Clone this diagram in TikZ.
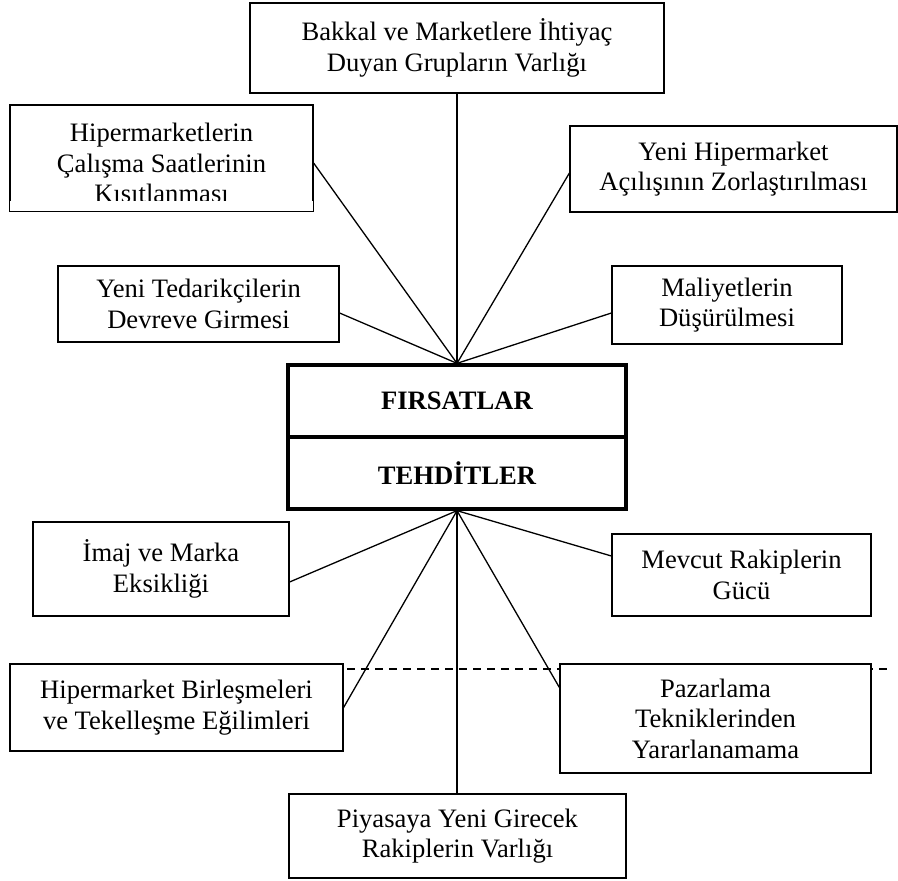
\documentclass[tikz,border=0pt]{standalone}
\usepackage{fontspec}
\setmainfont{Liberation Serif}
\tikzset{
	node_box/.style = {
		align=center,
		inner sep=0pt,
		draw=black,
		fill=white,
		line width=1.2pt,
		font=\fontsize{26.6}{30.5}\selectfont
	},
	node_main/.style = {
		node_box,
		font=\fontsize{26.6}{30.5}\selectfont\bfseries,
		line width=3.3pt,
		minimum width=338pt,
		minimum height=72pt
	},
	edge_line/.style = {
		line width=1.3pt
	},
	edge_dash/.style = {
		line width=1.2pt,
		dash pattern=on 8pt off 6pt
	},
}

\begin{document}
\begin{tikzpicture}[x=1pt, y=-1pt]
\useasboundingbox (0,0) rectangle (898,881);
% dashed line, behind the boxes
\coordinate (dash_l) at (347,669);
\coordinate (dash_r) at (887,669);
\draw [edge_dash] (dash_l) -- (dash_r);
% opportunities
\node [node_box, minimum width=414pt, minimum height=90pt] (bakkal) at (457,48) {Bakkal ve Marketlere İhtiyaç\\Duyan Grupların Varlığı};
% last line cut off by the box
\begin{scope}
\clip (0,100) rectangle (320,200);
\node [node_box, minimum width=303pt, minimum height=106pt] (calisma) at (161.5,158) {\rule{0pt}{28.4pt}Hipermarketlerin\\Çalışma Saatlerinin\\Kısıtlanması};
\end{scope}
\draw [line width=1.2pt] (calisma.north west) rectangle (calisma.south east);
\node [node_box, minimum width=281pt, minimum height=76pt] (tedarik) at (198.5,304) {Yeni Tedarikçilerin\\Devreve Girmesi};
\node [node_box, minimum width=327pt, minimum height=86pt] (acilis) at (733.5,169) {Yeni Hipermarket\\Açılışının Zorlaştırılması};
\node [node_box, minimum width=230pt, minimum height=78pt] (maliyet) at (727,305) {Maliyetlerin\\Düşürülmesi};
% centre
\node [node_main] (firsat) at (457,401) {FIRSATLAR};
\node [node_main] (tehdit) at (457,473) {TEHDİTLER};
% threats
\node [node_box, minimum width=256pt, minimum height=94pt] (imaj) at (161,569) {İmaj ve Marka\\Eksikliği};
\node [node_box, minimum width=333pt, minimum height=87pt] (birles) at (176.5,707.5) {Hipermarket Birleşmeleri\\ve Tekelleşme Eğilimleri};
\node [node_box, minimum width=259pt, minimum height=82pt] (mevcut) at (741.5,575) {Mevcut Rakiplerin\\Gücü};
\node [node_box, minimum width=311pt, minimum height=109pt] (pazar) at (715.5,718.5) {Pazarlama\\Tekniklerinden\\Yararlanamama};
\node [node_box, minimum width=337pt, minimum height=84pt] (piyasa) at (457.5,836) {Piyasaya Yeni Girecek\\Rakiplerin Varlığı};
% connectors
\draw [edge_line] (bakkal.south) -- (firsat.north);
\draw [edge_line] ([yshift=-5pt]calisma.east) -- (firsat.north);
\draw [edge_line] ([yshift=-9pt]tedarik.east) -- (firsat.north);
\draw [edge_line] ([yshift=-4pt]acilis.west) -- (firsat.north);
\draw [edge_line] ([yshift=-8pt]maliyet.west) -- (firsat.north);
\draw [edge_line] ([yshift=-13pt]imaj.east) -- (tehdit.south);
\draw [edge_line] (birles.east) -- (tehdit.south);
\draw [edge_line] ([yshift=19pt]mevcut.west) -- (tehdit.south);
\draw [edge_line] ([yshift=31pt]pazar.west) -- (tehdit.south);
\draw [edge_line] (tehdit.south) -- (tehdit.south |- piyasa.north);
\end{tikzpicture}
\end{document}
